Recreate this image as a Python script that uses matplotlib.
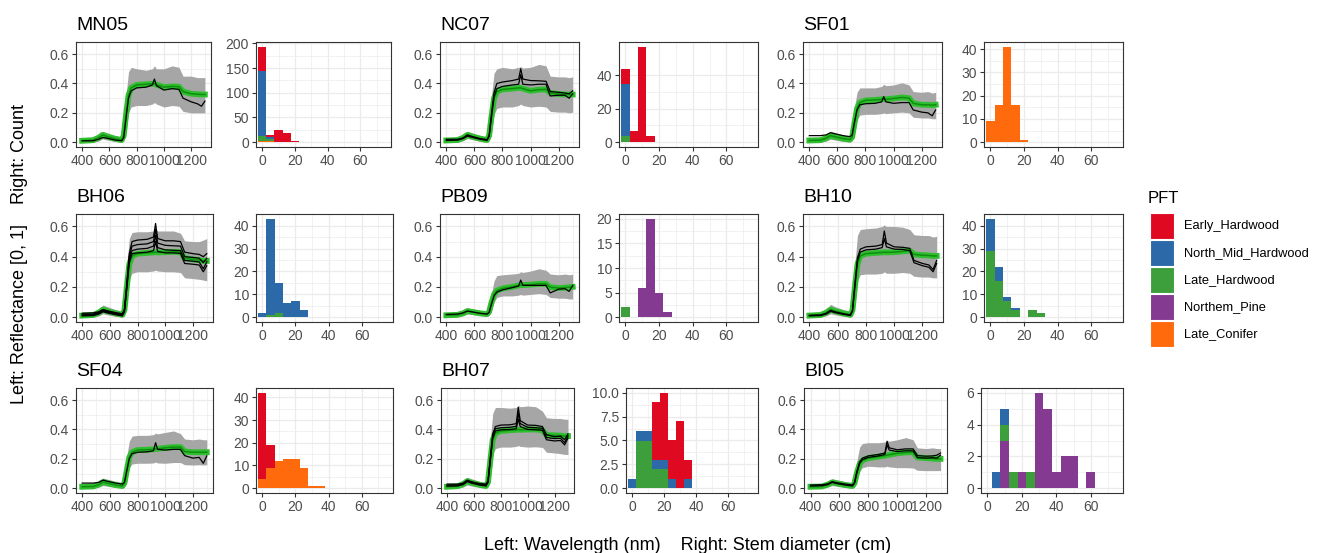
import matplotlib.pyplot as plt
import matplotlib.patches as mpatches
import numpy as np

plt.rcParams['font.family'] = ['Liberation Sans', 'DejaVu Sans']

# Spectral knots (nm)
WAVELENGTH = [400, 480, 520, 550, 580, 640, 690, 705, 720, 740, 760, 800,
              870, 915, 930, 945, 1000, 1060, 1110, 1140, 1200, 1245, 1275, 1300]

# --- MN05 ---
MN05_MEAN = [0.010, 0.014, 0.030, 0.050, 0.040, 0.024, 0.015, 0.045, 0.170, 0.320, 0.370, 0.390,
             0.395, 0.398, 0.398, 0.392, 0.375, 0.380, 0.378, 0.345, 0.330, 0.327, 0.325, 0.325]
MN05_LOW = [0.000, 0.000, 0.008, 0.022, 0.015, 0.005, 0.000, 0.010, 0.060, 0.200, 0.240, 0.250,
            0.250, 0.260, 0.270, 0.260, 0.240, 0.250, 0.245, 0.210, 0.200, 0.200, 0.200, 0.200]
MN05_HIGH = [0.030, 0.030, 0.045, 0.075, 0.065, 0.045, 0.035, 0.080, 0.300, 0.480, 0.510, 0.500,
             0.490, 0.500, 0.520, 0.500, 0.500, 0.520, 0.510, 0.450, 0.450, 0.440, 0.440, 0.440]
MN05_OBS = [
    [0.010, 0.010, 0.020, 0.032, 0.028, 0.015, 0.010, 0.030, 0.150, 0.300, 0.350, 0.370,
     0.375, 0.390, 0.430, 0.385, 0.355, 0.365, 0.360, 0.300, 0.275, 0.262, 0.245, 0.280],
]

# --- NC07 ---
NC07_MEAN = [0.012, 0.015, 0.030, 0.050, 0.040, 0.025, 0.015, 0.045, 0.160, 0.300, 0.345, 0.360,
             0.365, 0.370, 0.370, 0.365, 0.350, 0.358, 0.360, 0.335, 0.328, 0.325, 0.325, 0.325]
NC07_LOW = [0.000, 0.000, 0.010, 0.025, 0.018, 0.006, 0.000, 0.012, 0.060, 0.190, 0.230, 0.240,
            0.240, 0.250, 0.260, 0.250, 0.240, 0.245, 0.240, 0.210, 0.205, 0.205, 0.200, 0.205]
NC07_HIGH = [0.030, 0.032, 0.045, 0.075, 0.065, 0.045, 0.035, 0.085, 0.300, 0.470, 0.500, 0.510,
             0.500, 0.510, 0.515, 0.505, 0.510, 0.530, 0.520, 0.450, 0.445, 0.445, 0.440, 0.445]
NC07_OBS = [
    [0.020, 0.020, 0.030, 0.050, 0.040, 0.025, 0.018, 0.045, 0.180, 0.340, 0.400, 0.410,
     0.420, 0.430, 0.500, 0.430, 0.420, 0.418, 0.415, 0.345, 0.340, 0.335, 0.330, 0.350],
    [0.012, 0.014, 0.025, 0.042, 0.034, 0.020, 0.012, 0.040, 0.160, 0.310, 0.365, 0.380,
     0.390, 0.395, 0.460, 0.395, 0.390, 0.395, 0.395, 0.315, 0.320, 0.320, 0.300, 0.330],
]

# --- SF01 ---
SF01_MEAN = [0.012, 0.014, 0.028, 0.045, 0.038, 0.025, 0.018, 0.035, 0.120, 0.230, 0.270, 0.285,
             0.288, 0.292, 0.295, 0.292, 0.298, 0.305, 0.300, 0.265, 0.255, 0.255, 0.252, 0.255]
SF01_LOW = [0.000, 0.000, 0.008, 0.020, 0.015, 0.005, 0.000, 0.010, 0.050, 0.150, 0.185, 0.190,
            0.190, 0.195, 0.200, 0.195, 0.200, 0.205, 0.200, 0.170, 0.165, 0.165, 0.160, 0.160]
SF01_HIGH = [0.030, 0.030, 0.045, 0.075, 0.068, 0.050, 0.040, 0.070, 0.230, 0.340, 0.370, 0.370,
             0.370, 0.380, 0.395, 0.385, 0.390, 0.405, 0.390, 0.345, 0.340, 0.345, 0.335, 0.340]
SF01_OBS = [
    [0.045, 0.045, 0.050, 0.065, 0.058, 0.045, 0.038, 0.050, 0.130, 0.220, 0.255, 0.262,
     0.265, 0.275, 0.310, 0.275, 0.265, 0.270, 0.270, 0.220, 0.205, 0.200, 0.180, 0.220],
]

# --- BH06 ---
BH06_MEAN = [0.010, 0.014, 0.030, 0.050, 0.040, 0.025, 0.015, 0.045, 0.180, 0.350, 0.405, 0.420,
             0.425, 0.428, 0.430, 0.428, 0.430, 0.432, 0.430, 0.390, 0.382, 0.378, 0.372, 0.372]
BH06_LOW = [0.000, 0.000, 0.008, 0.022, 0.015, 0.005, 0.000, 0.012, 0.080, 0.250, 0.290, 0.300,
            0.300, 0.305, 0.310, 0.305, 0.300, 0.300, 0.295, 0.260, 0.255, 0.250, 0.245, 0.240]
BH06_HIGH = [0.035, 0.035, 0.050, 0.080, 0.070, 0.050, 0.040, 0.090, 0.320, 0.520, 0.560, 0.565,
             0.565, 0.570, 0.580, 0.570, 0.570, 0.570, 0.555, 0.505, 0.500, 0.500, 0.510, 0.520]
BH06_OBS = [
    [0.025, 0.028, 0.035, 0.050, 0.042, 0.030, 0.022, 0.050, 0.200, 0.420, 0.500, 0.510,
     0.515, 0.530, 0.620, 0.520, 0.505, 0.505, 0.500, 0.430, 0.420, 0.415, 0.400, 0.420],
    [0.018, 0.020, 0.030, 0.045, 0.038, 0.025, 0.018, 0.045, 0.190, 0.400, 0.470, 0.480,
     0.485, 0.500, 0.580, 0.490, 0.475, 0.472, 0.470, 0.400, 0.395, 0.390, 0.360, 0.390],
    [0.012, 0.015, 0.025, 0.040, 0.032, 0.020, 0.012, 0.040, 0.180, 0.380, 0.440, 0.450,
     0.455, 0.470, 0.540, 0.460, 0.445, 0.442, 0.440, 0.375, 0.370, 0.365, 0.320, 0.365],
    [0.008, 0.010, 0.020, 0.035, 0.028, 0.016, 0.008, 0.035, 0.170, 0.360, 0.420, 0.425,
     0.430, 0.440, 0.500, 0.435, 0.425, 0.425, 0.422, 0.355, 0.350, 0.345, 0.300, 0.340],
]

# --- PB09 ---
PB09_MEAN = [0.012, 0.015, 0.025, 0.040, 0.035, 0.025, 0.020, 0.035, 0.090, 0.150, 0.175, 0.190,
             0.200, 0.210, 0.212, 0.212, 0.215, 0.220, 0.220, 0.198, 0.192, 0.195, 0.198, 0.200]
PB09_LOW = [0.000, 0.002, 0.010, 0.020, 0.018, 0.010, 0.005, 0.012, 0.040, 0.100, 0.130, 0.140,
            0.140, 0.145, 0.150, 0.145, 0.150, 0.155, 0.150, 0.130, 0.125, 0.125, 0.120, 0.120]
PB09_HIGH = [0.030, 0.030, 0.040, 0.060, 0.055, 0.045, 0.038, 0.055, 0.150, 0.240, 0.275, 0.280,
             0.285, 0.290, 0.300, 0.295, 0.305, 0.320, 0.310, 0.285, 0.280, 0.285, 0.280, 0.285]
PB09_OBS = [
    [0.018, 0.020, 0.028, 0.040, 0.035, 0.025, 0.020, 0.030, 0.080, 0.140, 0.165, 0.180,
     0.195, 0.205, 0.245, 0.210, 0.210, 0.210, 0.210, 0.160, 0.185, 0.188, 0.170, 0.210],
]

# --- BH10 ---
BH10_MEAN = [0.010, 0.014, 0.030, 0.050, 0.040, 0.025, 0.015, 0.045, 0.180, 0.350, 0.405, 0.420,
             0.425, 0.428, 0.430, 0.428, 0.430, 0.435, 0.440, 0.415, 0.410, 0.408, 0.405, 0.405]
BH10_LOW = [0.000, 0.000, 0.008, 0.022, 0.015, 0.005, 0.000, 0.012, 0.070, 0.240, 0.280, 0.285,
            0.285, 0.290, 0.300, 0.290, 0.290, 0.295, 0.290, 0.270, 0.265, 0.265, 0.260, 0.260]
BH10_HIGH = [0.030, 0.032, 0.050, 0.085, 0.070, 0.050, 0.040, 0.090, 0.330, 0.540, 0.580, 0.585,
             0.590, 0.600, 0.610, 0.600, 0.600, 0.595, 0.580, 0.545, 0.540, 0.540, 0.530, 0.535]
BH10_OBS = [
    [0.012, 0.015, 0.025, 0.045, 0.035, 0.022, 0.015, 0.045, 0.200, 0.390, 0.450, 0.465,
     0.470, 0.480, 0.570, 0.490, 0.465, 0.462, 0.455, 0.375, 0.355, 0.345, 0.315, 0.375],
    [0.008, 0.010, 0.020, 0.038, 0.030, 0.018, 0.010, 0.040, 0.185, 0.370, 0.430, 0.445,
     0.450, 0.460, 0.520, 0.465, 0.450, 0.448, 0.440, 0.360, 0.340, 0.330, 0.300, 0.355],
]

# --- SF04 ---
SF04_MEAN = [0.010, 0.012, 0.025, 0.042, 0.035, 0.022, 0.015, 0.035, 0.110, 0.210, 0.245, 0.260,
             0.262, 0.265, 0.268, 0.268, 0.275, 0.280, 0.280, 0.250, 0.245, 0.245, 0.245, 0.245]
SF04_LOW = [0.000, 0.000, 0.008, 0.018, 0.014, 0.005, 0.000, 0.008, 0.045, 0.140, 0.165, 0.170,
            0.170, 0.172, 0.178, 0.172, 0.170, 0.175, 0.175, 0.160, 0.158, 0.160, 0.158, 0.160]
SF04_HIGH = [0.028, 0.030, 0.042, 0.070, 0.062, 0.048, 0.038, 0.065, 0.210, 0.320, 0.355, 0.360,
             0.360, 0.365, 0.375, 0.370, 0.380, 0.390, 0.372, 0.335, 0.330, 0.335, 0.330, 0.330]
SF04_OBS = [
    [0.035, 0.035, 0.040, 0.055, 0.048, 0.035, 0.028, 0.040, 0.110, 0.200, 0.235, 0.245,
     0.248, 0.255, 0.310, 0.265, 0.260, 0.265, 0.265, 0.222, 0.205, 0.210, 0.170, 0.220],
]

# --- BH07 ---
BH07_MEAN = [0.010, 0.014, 0.028, 0.048, 0.038, 0.024, 0.015, 0.042, 0.170, 0.330, 0.375, 0.390,
             0.395, 0.398, 0.400, 0.398, 0.400, 0.400, 0.395, 0.362, 0.360, 0.358, 0.355, 0.355]
BH07_LOW = [0.000, 0.000, 0.008, 0.022, 0.015, 0.005, 0.000, 0.012, 0.070, 0.230, 0.270, 0.280,
            0.280, 0.285, 0.290, 0.285, 0.280, 0.282, 0.278, 0.245, 0.240, 0.235, 0.230, 0.230]
BH07_HIGH = [0.030, 0.032, 0.045, 0.075, 0.065, 0.048, 0.038, 0.085, 0.310, 0.510, 0.550, 0.550,
             0.545, 0.550, 0.565, 0.555, 0.560, 0.555, 0.525, 0.480, 0.475, 0.475, 0.470, 0.470]
BH07_OBS = [
    [0.028, 0.028, 0.035, 0.055, 0.045, 0.032, 0.028, 0.050, 0.190, 0.370, 0.420, 0.430,
     0.432, 0.440, 0.550, 0.460, 0.430, 0.428, 0.420, 0.365, 0.350, 0.355, 0.330, 0.370],
    [0.020, 0.022, 0.030, 0.050, 0.040, 0.028, 0.022, 0.045, 0.180, 0.355, 0.405, 0.412,
     0.415, 0.422, 0.510, 0.440, 0.415, 0.412, 0.408, 0.345, 0.338, 0.340, 0.310, 0.355],
    [0.014, 0.016, 0.025, 0.045, 0.035, 0.022, 0.016, 0.040, 0.170, 0.340, 0.390, 0.398,
     0.400, 0.405, 0.470, 0.420, 0.400, 0.398, 0.395, 0.330, 0.322, 0.325, 0.295, 0.340],
]

# --- BI05 ---
BI05_MEAN = [0.010, 0.012, 0.025, 0.040, 0.034, 0.022, 0.015, 0.035, 0.100, 0.165, 0.190, 0.205,
             0.215, 0.222, 0.225, 0.228, 0.238, 0.244, 0.245, 0.210, 0.205, 0.202, 0.200, 0.200]
BI05_LOW = [0.000, 0.000, 0.008, 0.018, 0.014, 0.005, 0.000, 0.008, 0.040, 0.115, 0.140, 0.150,
            0.145, 0.145, 0.150, 0.145, 0.140, 0.140, 0.138, 0.122, 0.120, 0.120, 0.120, 0.120]
BI05_HIGH = [0.030, 0.030, 0.040, 0.065, 0.058, 0.045, 0.038, 0.060, 0.180, 0.280, 0.305, 0.310,
             0.310, 0.315, 0.325, 0.320, 0.330, 0.345, 0.330, 0.275, 0.270, 0.275, 0.270, 0.270]
BI05_OBS = [
    [0.022, 0.024, 0.030, 0.045, 0.038, 0.028, 0.022, 0.040, 0.110, 0.180, 0.205, 0.220,
     0.230, 0.240, 0.320, 0.275, 0.262, 0.268, 0.268, 0.222, 0.218, 0.220, 0.225, 0.240],
    [0.015, 0.018, 0.025, 0.040, 0.032, 0.022, 0.016, 0.035, 0.100, 0.170, 0.195, 0.210,
     0.220, 0.230, 0.295, 0.260, 0.250, 0.255, 0.255, 0.208, 0.205, 0.208, 0.205, 0.225],
]

# Stem diameter bin centres (cm), bin width 5
DIAMETER = [0, 5, 10, 15, 20, 25, 30, 35, 40, 45, 50, 55, 60]

PFT_ORDER = ['Early_Hardwood', 'North_Mid_Hardwood', 'Late_Hardwood',
             'Northern_Pine', 'Late_Conifer']
PFT_LABELS = ['Early_Hardwood', 'North_Mid_Hardwood', 'Late_Hardwood',
              'Northem_Pine', 'Late_Conifer']
PFT_COLORS = {
    'Early_Hardwood': '#DF0A22',
    'North_Mid_Hardwood': '#2C69A8',
    'Late_Hardwood': '#3D9F3C',
    'Northern_Pine': '#843A90',
    'Late_Conifer': '#FF6A0C',
}

# tree counts per diameter bin, per PFT
MN05_COUNTS = {'Early_Hardwood': [48, 3, 25, 19, 2],
               'North_Mid_Hardwood': [133, 4],
               'Late_Hardwood': [9, 5],
               'Late_Conifer': [3, 2]}
NC07_COUNTS = {'Early_Hardwood': [9, 7, 57, 4],
               'North_Mid_Hardwood': [31],
               'Late_Hardwood': [4]}
SF01_COUNTS = {'Late_Conifer': [9, 16, 41, 16, 1]}
BH06_COUNTS = {'North_Mid_Hardwood': [2, 42, 13, 6, 7, 3],
               'Late_Hardwood': [0, 1, 2]}
PB09_COUNTS = {'Late_Hardwood': [2],
               'Northern_Pine': [0, 0, 6, 20, 5, 1]}
BH10_COUNTS = {'North_Mid_Hardwood': [14, 6, 2, 1],
               'Late_Hardwood': [29, 16, 7, 3, 0, 3, 2]}
SF04_COUNTS = {'Early_Hardwood': [38, 10],
               'Late_Conifer': [4, 9, 12, 13, 13, 9, 1, 1]}
BH07_COUNTS = {'Early_Hardwood': [0, 0, 0, 6, 7, 4, 7, 2],
               'North_Mid_Hardwood': [1, 1, 1, 1, 1, 1, 0, 1],
               'Late_Hardwood': [0, 5, 5, 2, 2]}
BI05_COUNTS = {'North_Mid_Hardwood': [0, 1, 1],
               'Late_Hardwood': [0, 0, 1, 1, 0, 1],
               'Northern_Pine': [0, 0, 3, 0, 1, 0, 6, 5, 1, 2, 2, 0, 1]}

SITES = [
    ('MN05', MN05_MEAN, MN05_LOW, MN05_HIGH, MN05_OBS, MN05_COUNTS, [0, 50, 100, 150, 200]),
    ('NC07', NC07_MEAN, NC07_LOW, NC07_HIGH, NC07_OBS, NC07_COUNTS, [0, 20, 40]),
    ('SF01', SF01_MEAN, SF01_LOW, SF01_HIGH, SF01_OBS, SF01_COUNTS, [0, 10, 20, 30, 40]),
    ('BH06', BH06_MEAN, BH06_LOW, BH06_HIGH, BH06_OBS, BH06_COUNTS, [0, 10, 20, 30, 40]),
    ('PB09', PB09_MEAN, PB09_LOW, PB09_HIGH, PB09_OBS, PB09_COUNTS, [0, 5, 10, 15, 20]),
    ('BH10', BH10_MEAN, BH10_LOW, BH10_HIGH, BH10_OBS, BH10_COUNTS, [0, 10, 20, 30, 40]),
    ('SF04', SF04_MEAN, SF04_LOW, SF04_HIGH, SF04_OBS, SF04_COUNTS, [0, 10, 20, 30, 40]),
    ('BH07', BH07_MEAN, BH07_LOW, BH07_HIGH, BH07_OBS, BH07_COUNTS, [0, 2.5, 5, 7.5, 10]),
    ('BI05', BI05_MEAN, BI05_LOW, BI05_HIGH, BI05_OBS, BI05_COUNTS, [0, 2, 4, 6]),
]

W, H = 1317, 553

# panel boxes in pixels: (left, right) for spectra and histogram, per grid cell
ROWS = [(42, 147), (214, 322), (388, 493)]
SPEC_X = [[(76, 211), (440, 579), (803, 942)],
          [(76, 213), (440, 579), (803, 943)],
          [(76, 213), (441, 574), (804, 947)]]
HIST_X = [[(256, 391), (619, 758), (984, 1123)],
          [(256, 393), (619, 758), (984, 1123)],
          [(256, 393), (626, 758), (981, 1123)]]

BORDER = '#333333'
GRID = '#EBEBEB'
TICKTXT = '#4D4D4D'


def box(x, y):
    (l, r), (t, b) = x, y
    return [l / W, 1 - b / H, (r - l) / W, (b - t) / H]


def style_axes(ax):
    ax.set_axisbelow(True)
    ax.grid(which='major', color=GRID, lw=0.9)
    ax.grid(which='minor', color=GRID, lw=0.45)
    for s in ax.spines.values():
        s.set_color(BORDER)
        s.set_linewidth(0.8)
    ax.tick_params(which='major', length=3, width=0.8, color=BORDER,
                   labelcolor=TICKTXT, labelsize=10, pad=2)
    ax.tick_params(which='minor', length=0)


def draw_spectra(ax, name, mean, low, high, obs):
    ax.fill_between(WAVELENGTH, low, high, color='#A6A6A6', lw=0, zorder=1)
    ax.plot(WAVELENGTH, mean, color='#2FBE2F', lw=4.2, zorder=2, solid_joinstyle='round')
    ax.plot(WAVELENGTH, mean, color='#0E8E0E', lw=1.1, zorder=3)
    for line in obs:
        ax.plot(WAVELENGTH, line, color='black', lw=0.9, zorder=4)
    ax.set_xlim(355, 1345)
    ax.set_ylim(-0.0325, 0.6825)
    ax.set_xticks([400, 600, 800, 1000, 1200])
    ax.set_xticks([500, 700, 900, 1100, 1300], minor=True)
    ax.set_yticks([0, 0.2, 0.4, 0.6])
    ax.set_yticklabels(['0.0', '0.2', '0.4', '0.6'])
    ax.set_yticks([0.1, 0.3, 0.5], minor=True)
    style_axes(ax)
    ax.set_title(name, loc='left', fontsize=14, pad=9, color='black')


def draw_hist(ax, counts, yticks):
    base = np.zeros(len(DIAMETER))
    # stacked bottom-up so the first PFT sits on top
    for pft in PFT_ORDER[::-1]:
        if pft not in counts:
            continue
        vals = np.array(counts[pft] + [0] * (len(DIAMETER) - len(counts[pft])), dtype=float)
        ax.bar(DIAMETER, vals, width=5, bottom=base, color=PFT_COLORS[pft],
               linewidth=0, zorder=2)
        base += vals
    top = base.max()
    ax.set_ylim(-0.05 * top, 1.05 * top)
    ax.set_xlim(-3.75, 78.75)
    ax.set_xticks([0, 20, 40, 60])
    ax.set_xticks([10, 30, 50, 70], minor=True)
    ax.set_yticks(yticks)
    if any(v != int(v) for v in yticks):
        ax.set_yticklabels([f'{v:.1f}' for v in yticks])
    else:
        ax.set_yticklabels([f'{int(v)}' for v in yticks])
    ax.set_yticks([(a + b) / 2 for a, b in zip(yticks[:-1], yticks[1:])], minor=True)
    style_axes(ax)


fig = plt.figure(figsize=(W / 100, H / 100), dpi=100)

for i, (name, mean, low, high, obs, counts, yticks) in enumerate(SITES):
    r, c = divmod(i, 3)
    ax_s = fig.add_axes(box(SPEC_X[r][c], ROWS[r]))
    draw_spectra(ax_s, name, mean, low, high, obs)
    ax_h = fig.add_axes(box(HIST_X[r][c], ROWS[r]))
    draw_hist(ax_h, counts, yticks)

# shared axis titles
fig.text(688 / W, 1 - 545 / H, 'Left: Wavelength (nm)    Right: Stem diameter (cm)',
         ha='center', va='center', fontsize=13)
fig.text(20 / W, 1 - 254 / H, 'Left: Reflectance [0, 1]    Right: Count',
         ha='center', va='center', rotation=90, fontsize=13)

# legend drawn in pixel space
lax = fig.add_axes([0, 0, 1, 1], zorder=-1)
lax.set_xlim(0, W)
lax.set_ylim(H, 0)
lax.axis('off')
lax.text(1148, 203, 'PFT', fontsize=12, ha='left', va='baseline')
for k, (pft, label) in enumerate(zip(PFT_ORDER, PFT_LABELS)):
    y0 = 213 + k * 27
    lax.add_patch(mpatches.Rectangle((1150, y0), 24, 26, facecolor=PFT_COLORS[pft],
                                     edgecolor='white', lw=0.8))
    lax.text(1184, y0 + 13, label, fontsize=9.3, ha='left', va='center')

fig.savefig('out.png', dpi=100, facecolor='white')
